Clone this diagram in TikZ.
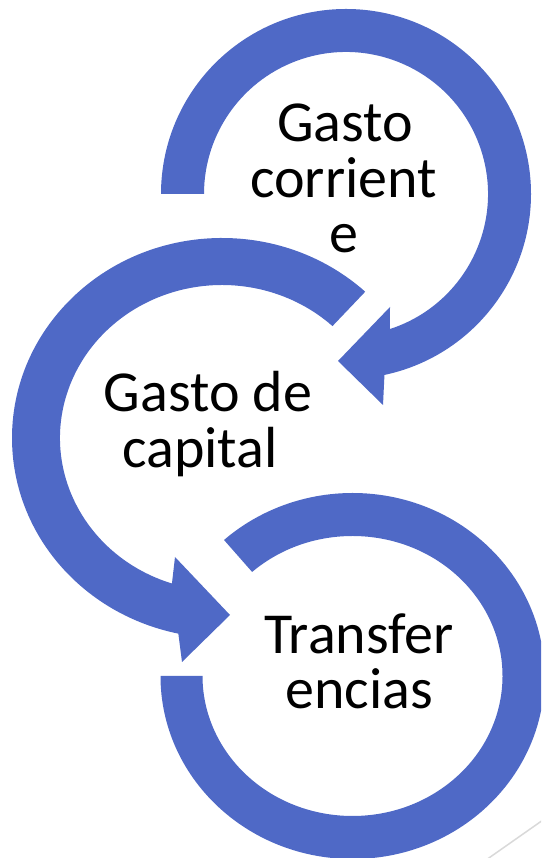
\documentclass[tikz,border=0pt]{standalone}
\usepackage{fontspec}
\setmainfont{Carlito}
\usetikzlibrary{calc}
\definecolor{cblue}{RGB}{79,105,198}
\definecolor{lgray}{RGB}{217,217,217}
\begin{document}
\begin{tikzpicture}[x=1pt,y=1pt,
  band/.style={fill=cblue,draw=none},
  lbl/.style={anchor=base,inner sep=0pt,font=\fontsize{58}{58}\selectfont,text=black},
  deco/.style={draw=lgray,line width=1.5pt}]
\useasboundingbox (0,0) rectangle (541,858);
\clip (0,0) rectangle (541,858);
\coordinate (c1) at (346,664);
\coordinate (c2) at (222,420);
\coordinate (c3) at (352.5,182);
% decorative line
\coordinate (g1) at (486,-2);
\coordinate (g2) at (543,38);
\draw[deco] (g1) -- (g2);
% first circular arrow
\coordinate (a1lo) at (383,453);
\coordinate (a1tip) at (338,497);
\coordinate (a1up) at (390,551);
\fill[band] ($(c1)+(180:185pt)$) arc[start angle=180,end angle=-78,radius=185pt]
  -- (a1lo) -- (a1tip) -- (a1up) -- ($(c1)+(-72:142pt)$)
  arc[start angle=-72,end angle=180,radius=142pt] -- cycle;
% second circular arrow
\coordinate (a2lo) at (182,196);
\coordinate (a2tip) at (230,243);
\coordinate (a2up) at (175,301);
\fill[band] ($(c2)+(47:210pt and 200pt)$)
  arc[start angle=47,end angle=258,x radius=210pt,y radius=200pt]
  -- (a2lo) -- (a2tip) -- (a2up) -- ($(c2)+(252:162pt and 153pt)$)
  arc[start angle=252,end angle=47,x radius=162pt,y radius=153pt] -- cycle;
% third ring
\fill[band] ($(c3)+(180:192pt and 183pt)$)
  arc[start angle=180,end angle=492,x radius=192pt,y radius=183pt]
  -- ($(c3)+(132:150pt and 140pt)$)
  arc[start angle=132,end angle=-180,x radius=150pt,y radius=140pt] -- cycle;
% labels
\node[lbl] (t1a) at (345,716) {Gasto};
\node[lbl] (t1b) at (343.5,660) {corrient};
\node[lbl] (t1c) at (344,605) {e};
\node[lbl] (t2a) at (208,446) {Gasto de};
\node[lbl] (t2b) at (200,390) {capital};
\node[lbl] (t3a) at (359,204) {Transfer};
\node[lbl] (t3b) at (359,149) {encias};
\end{tikzpicture}
\end{document}
